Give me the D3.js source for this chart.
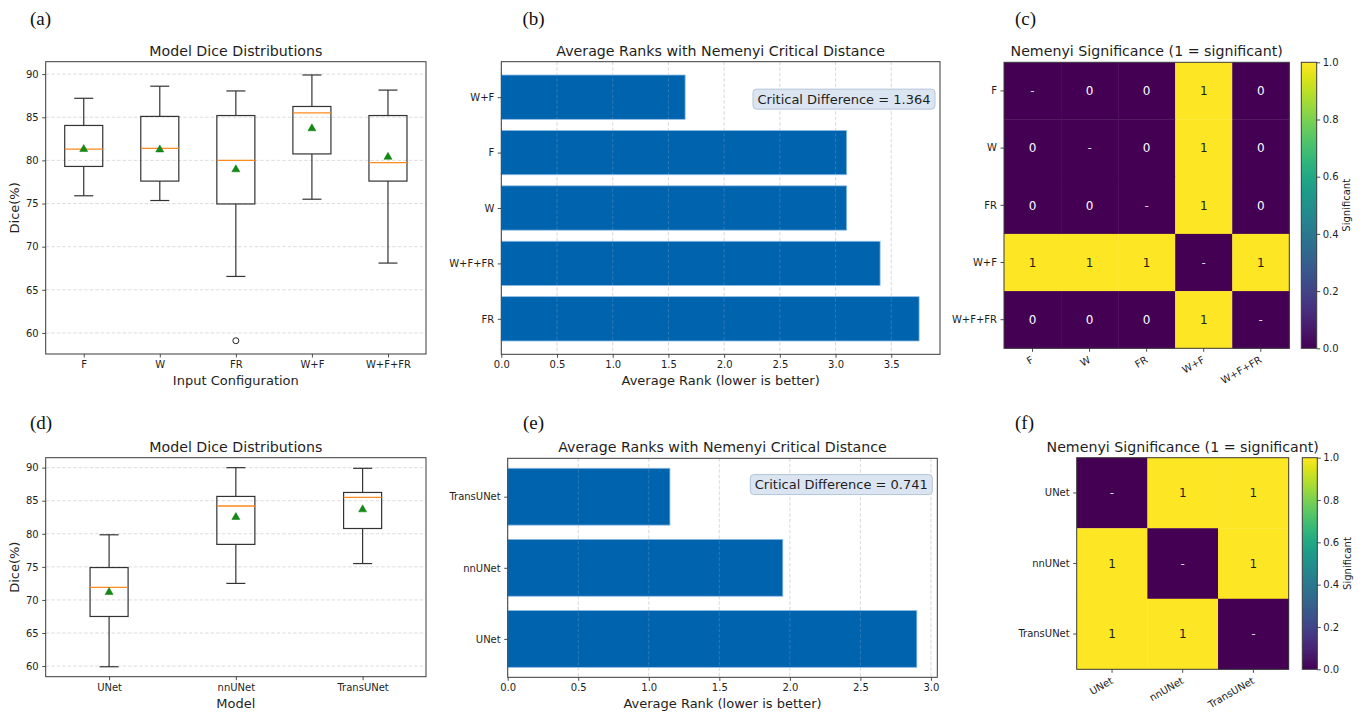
<!DOCTYPE html>
<html><head><meta charset="utf-8">
<script src="https://cdn.jsdelivr.net/npm/d3@7"></script>
<style>
body{margin:0;background:#fff}
svg{display:block}
text{font-family:"DejaVu Sans",sans-serif}
</style>
</head><body>
<svg id="chart" width="1363" height="714"></svg>
<script>
// ---------------- DATA ----------------
// (a) box plot: input configurations
const aCats = ["F", "W", "FR", "W+F", "W+F+FR"];
const aLow  = [75.9, 75.35, 66.55, 75.5, 68.1];
const aQ1   = [79.3, 77.6, 74.95, 80.75, 77.6];
const aMed  = [81.3, 81.4, 80.0, 85.5, 79.75];
const aQ3   = [84.05, 85.1, 85.2, 86.25, 85.2];
const aHigh = [87.2, 88.6, 88.05, 89.9, 88.15];
const aMean = [81.4, 81.35, 79.05, 83.8, 80.5];
const aOutliers = [[], [], [59.1], [], []];
const aYTicks = [60, 65, 70, 75, 80, 85, 90];

// (b) average ranks (top to bottom)
const bCats  = ["W+F", "F", "W", "W+F+FR", "FR"];
const bRanks = [1.65, 3.10, 3.10, 3.40, 3.75];
const bCD = 1.364;
const bXTicks = [0, 0.5, 1.0, 1.5, 2.0, 2.5, 3.0, 3.5];

// (c) Nemenyi significance matrix (null = diagonal)
const cCats = ["F", "W", "FR", "W+F", "W+F+FR"];
const cMat = [
  [null, 0, 0, 1, 0],
  [0, null, 0, 1, 0],
  [0, 0, null, 1, 0],
  [1, 1, 1, null, 1],
  [0, 0, 0, 1, null]
];

// (d) box plot: models
const dCats = ["UNet", "nnUNet", "TransUNet"];
const dLow  = [59.9, 72.5, 75.5];
const dQ1   = [67.5, 78.4, 80.8];
const dMed  = [71.9, 84.2, 85.5];
const dQ3   = [74.9, 85.65, 86.25];
const dHigh = [79.85, 90.0, 89.9];
const dMean = [71.3, 82.65, 83.8];
const dOutliers = [[], [], []];
const dYTicks = [60, 65, 70, 75, 80, 85, 90];

// (e) average ranks (top to bottom)
const eCats  = ["TransUNet", "nnUNet", "UNet"];
const eRanks = [1.15, 1.95, 2.90];
const eCD = 0.741;
const eXTicks = [0, 0.5, 1.0, 1.5, 2.0, 2.5, 3.0];

// (f) Nemenyi significance matrix
const fCats = ["UNet", "nnUNet", "TransUNet"];
const fMat = [
  [null, 1, 1],
  [1, null, 1],
  [1, 1, null]
];

const cbTicks = [0, 0.2, 0.4, 0.6, 0.8, 1.0];

// ---------------- DRAWING ----------------
const svg = d3.select("#chart");
svg.append("rect").attr("width", 1363).attr("height", 714).attr("fill", "#fff");
const defs = svg.append("defs");

const TICK_FS = 10, LABEL_FS = 13, TITLE_FS = 14.2;
const SPINE = "#3a3a3a";
const TXT = "#1e1e1e";

function styleAxis(g) {
  g.selectAll(".domain").remove();
  g.selectAll(".tick line").attr("stroke", SPINE).attr("stroke-width", 0.9);
  g.selectAll(".tick text").attr("font-size", TICK_FS).style("fill", TXT)
    .attr("font-family", "DejaVu Sans");
}

function frame(g, L, R, T, B) {
  g.append("rect").attr("x", L).attr("y", T).attr("width", R - L).attr("height", B - T)
    .attr("fill", "none").attr("stroke", SPINE).attr("stroke-width", 1);
}

function title(g, txt, cx, y) {
  g.append("text").attr("x", cx).attr("y", y).attr("text-anchor", "middle")
    .attr("font-size", TITLE_FS).style("fill", TXT).text(txt);
}

function panelLabel(txt, x, y) {
  svg.append("text").attr("x", x).attr("y", y).attr("font-size", 19)
    .style("font-family", "'Liberation Serif', 'Times New Roman', serif")
    .style("fill", "#111").text(txt);
}

function boxPanel(o) {
  const g = svg.append("g");
  const all = o.low.concat(o.high, o.outliers.flat());
  const [mn, mx] = d3.extent(all);
  const pad = (mx - mn) * 0.05;
  const y = d3.scaleLinear().domain([mn - pad, mx + pad]).range([o.B, o.T]);
  const n = o.cats.length;
  const x = d3.scaleLinear().domain([0.5, n + 0.5]).range([o.L, o.R]);
  const w = Math.min(0.15 * Math.max(n - 1, 1), 0.5);

  // grid
  g.append("g").selectAll("line").data(o.yTicks).join("line")
    .attr("x1", o.L).attr("x2", o.R).attr("y1", d => y(d)).attr("y2", d => y(d))
    .attr("stroke", "#b8b8b8").attr("stroke-opacity", 0.6)
    .attr("stroke-dasharray", "3.5,2").attr("stroke-width", 0.8);

  const idx = d3.range(n);
  const bx = g.append("g").selectAll("g").data(idx).join("g");
  const LC = "#333", LW = 1.2;
  // whiskers
  bx.append("line").attr("x1", i => x(i + 1)).attr("x2", i => x(i + 1))
    .attr("y1", i => y(o.q1[i])).attr("y2", i => y(o.low[i]))
    .attr("stroke", LC).attr("stroke-width", LW);
  bx.append("line").attr("x1", i => x(i + 1)).attr("x2", i => x(i + 1))
    .attr("y1", i => y(o.q3[i])).attr("y2", i => y(o.high[i]))
    .attr("stroke", LC).attr("stroke-width", LW);
  // caps
  bx.append("line").attr("x1", i => x(i + 1 - w / 4)).attr("x2", i => x(i + 1 + w / 4))
    .attr("y1", i => y(o.low[i])).attr("y2", i => y(o.low[i]))
    .attr("stroke", LC).attr("stroke-width", LW);
  bx.append("line").attr("x1", i => x(i + 1 - w / 4)).attr("x2", i => x(i + 1 + w / 4))
    .attr("y1", i => y(o.high[i])).attr("y2", i => y(o.high[i]))
    .attr("stroke", LC).attr("stroke-width", LW);
  // box
  bx.append("rect").attr("x", i => x(i + 1 - w / 2)).attr("width", i => x(i + 1 + w / 2) - x(i + 1 - w / 2))
    .attr("y", i => y(o.q3[i])).attr("height", i => y(o.q1[i]) - y(o.q3[i]))
    .attr("fill", "none").attr("stroke", LC).attr("stroke-width", LW);
  // median
  bx.append("line").attr("x1", i => x(i + 1 - w / 2)).attr("x2", i => x(i + 1 + w / 2))
    .attr("y1", i => y(o.med[i])).attr("y2", i => y(o.med[i]))
    .attr("stroke", "#ff8a1e").attr("stroke-width", 1.3);
  // mean triangle
  bx.append("path").attr("d", i => {
    const cx = x(i + 1), cy = y(o.mean[i]);
    return `M${cx},${cy - 3.8}L${cx + 4},${cy + 3.2}L${cx - 4},${cy + 3.2}Z`;
  }).attr("fill", "#138a13").attr("stroke", "#0d7a0d").attr("stroke-width", 0.5);
  // outliers
  idx.forEach(i => {
    g.append("g").selectAll("circle").data(o.outliers[i]).join("circle")
      .attr("cx", x(i + 1)).attr("cy", d => y(d)).attr("r", 3)
      .attr("fill", "none").attr("stroke", "#222").attr("stroke-width", 1);
  });

  // axes
  const ya = g.append("g").attr("transform", `translate(${o.L},0)`)
    .call(d3.axisLeft(y).tickValues(o.yTicks).tickSize(3.5).tickPadding(3.5).tickSizeOuter(0));
  styleAxis(ya);
  const xa = g.append("g").attr("transform", `translate(0,${o.B})`)
    .call(d3.axisBottom(x).tickValues(idx.map(i => i + 1)).tickFormat(d => o.cats[d - 1])
      .tickSize(3.5).tickPadding(3.5).tickSizeOuter(0));
  styleAxis(xa);
  frame(g, o.L, o.R, o.T, o.B);

  title(g, o.title, (o.L + o.R) / 2, o.T - 6);
  g.append("text").attr("x", (o.L + o.R) / 2).attr("y", o.B + 31).attr("text-anchor", "middle")
    .attr("font-size", LABEL_FS).style("fill", TXT).text(o.xlabel);
  g.append("text").attr("transform", `translate(19,${(o.T + o.B) / 2}) rotate(-90)`)
    .attr("text-anchor", "middle").attr("font-size", LABEL_FS).style("fill", TXT).text(o.ylabel);
}

function barPanel(o) {
  const g = svg.append("g");
  const n = o.cats.length;
  const x = d3.scaleLinear().domain([0, d3.max(o.vals) * 1.05]).range([o.L, o.R]);
  const lo = -0.4, hi = n - 1 + 0.4, pad = 0.05 * (hi - lo);
  const y = d3.scaleLinear().domain([lo - pad, hi + pad]).range([o.B, o.T]);
  const pos = i => n - 1 - i;

  // grid (behind)
  g.append("g").selectAll("line").data(o.xTicks).join("line")
    .attr("x1", d => x(d)).attr("x2", d => x(d)).attr("y1", o.T).attr("y2", o.B)
    .attr("stroke", "#c4c4c4").attr("stroke-opacity", 0.6)
    .attr("stroke-dasharray", "3.5,2").attr("stroke-width", 0.8);

  g.append("g").selectAll("rect").data(o.vals).join("rect")
    .attr("x", x(0)).attr("width", d => x(d) - x(0))
    .attr("y", (d, i) => y(pos(i) + 0.4)).attr("height", (d, i) => y(pos(i) - 0.4) - y(pos(i) + 0.4))
    .attr("fill", "#0063ae").attr("stroke", "#8fbde6").attr("stroke-width", 0.8);

  // grid on top (faint)
  g.append("g").selectAll("line").data(o.xTicks).join("line")
    .attr("x1", d => x(d)).attr("x2", d => x(d)).attr("y1", o.T).attr("y2", o.B)
    .attr("stroke", "#c4c4c4").attr("stroke-opacity", 0.3)
    .attr("stroke-dasharray", "3.5,2").attr("stroke-width", 0.8);

  const xa = g.append("g").attr("transform", `translate(0,${o.B})`)
    .call(d3.axisBottom(x).tickValues(o.xTicks).tickFormat(d3.format(".1f"))
      .tickSize(3.5).tickPadding(3.5).tickSizeOuter(0));
  styleAxis(xa);
  const ya = g.append("g").attr("transform", `translate(${o.L},0)`)
    .call(d3.axisLeft(y).tickValues(d3.range(n).map(pos)).tickFormat(d => o.cats[n - 1 - d])
      .tickSize(3.5).tickPadding(3.5).tickSizeOuter(0));
  styleAxis(ya);
  frame(g, o.L, o.R, o.T, o.B);

  title(g, o.title, (o.L + o.R) / 2, o.T - 6);
  g.append("text").attr("x", (o.L + o.R) / 2).attr("y", o.B + 31).attr("text-anchor", "middle")
    .attr("font-size", LABEL_FS).style("fill", TXT).text(o.xlabel);

  // critical difference box
  const cy = o.T + (o.B - o.T) * o.cdFrac;
  const box = g.append("rect");
  const t = g.append("text").attr("x", o.R - 9.5).attr("y", cy).attr("dy", "0.36em")
    .attr("text-anchor", "end").attr("font-size", 13).style("fill", TXT)
    .text(`Critical Difference = ${o.cd.toFixed(3)}`);
  const bb = t.node().getBBox();
  box.attr("x", bb.x - 4.5).attr("y", cy - 10).attr("width", bb.width + 9).attr("height", 20)
    .attr("rx", 3.5).attr("fill", "#dbe5f1").attr("stroke", "#aebfd6").attr("stroke-width", 0.9);
}

function heatPanel(o) {
  const g = svg.append("g");
  const n = o.cats.length;
  const x = d3.scaleBand().domain(d3.range(n)).range([o.L, o.R]);
  const y = d3.scaleBand().domain(d3.range(n)).range([o.T, o.B]);
  const color = d3.scaleSequential(d3.interpolateViridis).domain([0, 1]);
  const cells = [];
  o.mat.forEach((row, r) => row.forEach((v, c) => cells.push({ r, c, v })));

  g.append("g").selectAll("rect").data(cells).join("rect")
    .attr("x", d => x(d.c)).attr("y", d => y(d.r))
    .attr("width", x.bandwidth() + 0.3).attr("height", y.bandwidth() + 0.3)
    .attr("fill", d => color(d.v === null ? 0 : d.v));
  g.append("g").selectAll("text").data(cells).join("text")
    .attr("x", d => x(d.c) + x.bandwidth() / 2).attr("y", d => y(d.r) + y.bandwidth() / 2)
    .attr("dy", "0.36em").attr("text-anchor", "middle").attr("font-size", 12)
    .style("fill", d => d.v === 1 ? "#222" : (d.v === null ? "#d8d8d8" : "#ffffff"))
    .text(d => d.v === null ? "-" : d.v);

  const ya = g.append("g").attr("transform", `translate(${o.L},0)`)
    .call(d3.axisLeft(y).tickFormat(d => o.cats[d]).tickSize(3.5).tickPadding(3.5).tickSizeOuter(0));
  styleAxis(ya);
  const xa = g.append("g").attr("transform", `translate(0,${o.B})`)
    .call(d3.axisBottom(x).tickFormat(d => o.cats[d]).tickSize(3.5).tickPadding(3.5).tickSizeOuter(0));
  styleAxis(xa);
  xa.selectAll(".tick text").attr("text-anchor", "end").attr("dy", "0.75em")
    .attr("y", 0).attr("transform", "translate(-2,7) rotate(-30)");
  frame(g, o.L, o.R, o.T, o.B);

  title(g, o.title, o.titleX, o.T - 6);

  // colorbar
  const gid = "grad" + o.id;
  const grad = defs.append("linearGradient").attr("id", gid)
    .attr("x1", 0).attr("x2", 0).attr("y1", 1).attr("y2", 0);
  d3.range(0, 1.0001, 0.05).forEach(t => grad.append("stop").attr("offset", t).attr("stop-color", color(t)));
  g.append("rect").attr("x", o.cbL).attr("y", o.T).attr("width", o.cbR - o.cbL).attr("height", o.B - o.T)
    .attr("fill", `url(#${gid})`);
  const cs = d3.scaleLinear().domain([0, 1]).range([o.B, o.T]);
  const ca = g.append("g").attr("transform", `translate(${o.cbR},0)`)
    .call(d3.axisRight(cs).tickValues(cbTicks).tickFormat(d3.format(".1f")).tickSize(3.5).tickPadding(2.5).tickSizeOuter(0));
  styleAxis(ca);
  frame(g, o.cbL, o.cbR, o.T, o.B);
  g.append("text").attr("transform", `translate(${o.cbR + 33.5},${(o.T + o.B) / 2}) rotate(-90)`)
    .attr("text-anchor", "middle").attr("font-size", 10).style("fill", TXT).text("Significant");
}

// ---- panels ----
boxPanel({ L: 45.7, R: 426, T: 61.7, B: 354, cats: aCats, low: aLow, q1: aQ1, med: aMed, q3: aQ3,
  high: aHigh, mean: aMean, outliers: aOutliers, yTicks: aYTicks,
  title: "Model Dice Distributions", xlabel: "Input Configuration", ylabel: "Dice(%)" });
barPanel({ L: 501.3, R: 940, T: 61.7, B: 354.3, cats: bCats, vals: bRanks, xTicks: bXTicks, cd: bCD, cdFrac: 0.128,
  title: "Average Ranks with Nemenyi Critical Distance", xlabel: "Average Rank (lower is better)" });
heatPanel({ id: "c", L: 1004, R: 1289.3, T: 62.3, B: 348.3, cbL: 1301.3, cbR: 1316.7, cats: cCats, mat: cMat,
  title: "Nemenyi Significance (1 = significant)", titleX: 1146.7 });

boxPanel({ L: 45.7, R: 426, T: 457.7, B: 676.7, cats: dCats, low: dLow, q1: dQ1, med: dMed, q3: dQ3,
  high: dHigh, mean: dMean, outliers: dOutliers, yTicks: dYTicks,
  title: "Model Dice Distributions", xlabel: "Model", ylabel: "Dice(%)" });
barPanel({ L: 507.7, R: 937.3, T: 458.3, B: 677.3, cats: eCats, vals: eRanks, xTicks: eXTicks, cd: eCD, cdFrac: 0.12,
  title: "Average Ranks with Nemenyi Critical Distance", xlabel: "Average Rank (lower is better)" });
heatPanel({ id: "f", L: 1076.7, R: 1288.7, T: 457.7, B: 669.3, cbL: 1302.3, cbR: 1317.3, cats: fCats, mat: fMat,
  title: "Nemenyi Significance (1 = significant)", titleX: 1182.7 });

panelLabel("(a)", 30, 24.5);
panelLabel("(b)", 522.5, 24.5);
panelLabel("(c)", 1015, 24.5);
panelLabel("(d)", 30, 429);
panelLabel("(e)", 523, 429);
panelLabel("(f)", 1015, 429);
</script>
</body></html>
